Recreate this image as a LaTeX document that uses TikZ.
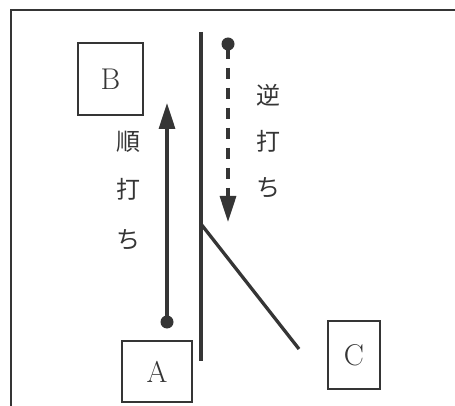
\documentclass[tikz,border=0pt]{standalone}
\usepackage{fontspec}
\newfontfamily\jpfont{Noto Sans CJK JP}
\usetikzlibrary{arrows.meta}
\definecolor{ink}{HTML}{353535}
\tikzset{
  lbox/.style={draw=ink, line width=1.9pt, inner sep=0pt, text=ink, font=\fontsize{30}{30}\selectfont},
  jplabel/.style={text=ink, font=\jpfont\fontsize{24}{24}\selectfont, inner sep=0pt},
  stroke/.style={draw=ink, line width=3.3pt},
  dot/.style={circle, fill=ink, minimum size=13pt, inner sep=0pt},
  bigtip/.style={-{Triangle[length=26pt,width=16pt]}},
}
\begin{document}
\begin{tikzpicture}[x=1pt,y=-1pt]
\useasboundingbox (0,0) rectangle (455,406);
\clip (0,0) rectangle (455,406);
\fill[white] (0,0) rectangle (455,406);
% frame
\draw[draw=ink, line width=2.2pt] (11,10) rectangle (470,420);
% boxes
\node[lbox, minimum width=65pt, minimum height=72pt] (B) at (110.5,79) {B};
\node[lbox, minimum width=70pt, minimum height=61pt] (A) at (157,371.5) {A};
\node[lbox, minimum width=52pt, minimum height=68pt] (C) at (354,355) {C};
% wall and branch
\coordinate (wtop) at (201,32);
\coordinate (wbot) at (201,361);
\coordinate (brs) at (201,224);
\coordinate (bre) at (299,349);
\draw[stroke] (wtop) -- (wbot);
\draw[stroke] (brs) -- (bre);
% forward arrow
\node[dot] (d1) at (167,322) {};
\coordinate (t1) at (167,103);
\draw[stroke, bigtip] (d1.center) -- (t1);
% reverse dashed arrow
\node[dot] (d2) at (228,44) {};
\coordinate (t2) at (228,222);
\draw[stroke, bigtip, dash pattern=on 11pt off 9pt, dash phase=-4pt] (d2.center) -- (t2);
% labels
\node[jplabel] (j1) at (128,142) {順};
\node[jplabel] (j2) at (128,189) {打};
\node[jplabel] (j3) at (128,240) {ち};
\node[jplabel] (k1) at (268,95) {逆};
\node[jplabel] (k2) at (268,141) {打};
\node[jplabel] (k3) at (268,188) {ち};
\end{tikzpicture}
\end{document}
